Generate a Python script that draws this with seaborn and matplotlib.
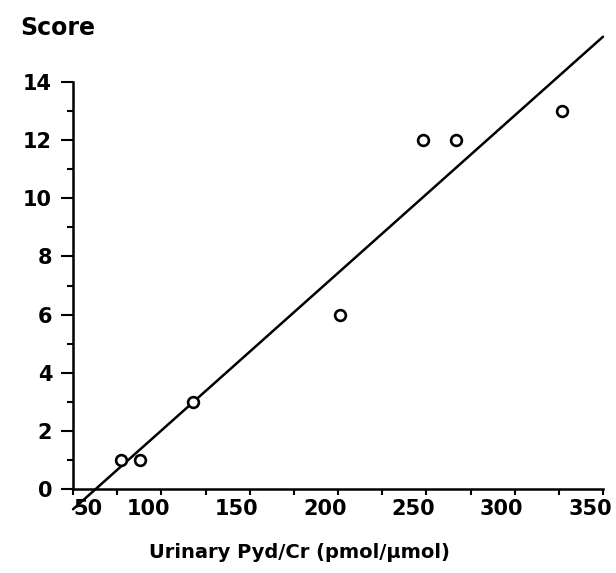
import numpy as np
import pandas as pd
import matplotlib
matplotlib.use("Agg")
import matplotlib.pyplot as plt
import matplotlib.transforms as mtransforms
from matplotlib.ticker import MultipleLocator
import seaborn as sns

# datos
pyd_cr = [77, 88, 118, 201, 248, 267, 327]
score = [1, 1, 3, 6, 12, 12, 13]
x_ticks = [50, 100, 150, 200, 250, 300, 350]
y_ticks = [0, 2, 4, 6, 8, 10, 12, 14]

df = pd.DataFrame({"pyd_cr": pyd_cr, "score": score})

sns.set_style("ticks", {"axes.edgecolor": "black", "text.color": "black",
                        "xtick.color": "black", "ytick.color": "black",
                        "axes.labelcolor": "black"})
plt.rcParams["font.family"] = ["DejaVu Sans"]

fig = plt.figure(figsize=(6.16, 5.73), dpi=100)
ax = fig.add_axes([73 / 616, 1 - 489 / 573, 530 / 616, 407 / 573])
ax.set_xlim(50, 350)
ax.set_ylim(0, 14)

# puntos abiertos + recta de regresion (truncate=False llega hasta los limites)
sns.regplot(data=df, x="pyd_cr", y="score", ax=ax, ci=None, truncate=False,
            scatter_kws={"s": 60, "facecolors": "white", "edgecolors": "black",
                         "linewidths": 1.9, "alpha": 1, "zorder": 3, "clip_on": False},
            line_kws={"color": "black", "linewidth": 1.8, "clip_on": False})
ax.set_xlim(50, 350)
ax.set_ylim(0, 14)

sns.despine(ax=ax)
for s in ["left", "bottom"]:
    ax.spines[s].set_linewidth(1.8)

ax.set_xticks(x_ticks)
ax.set_yticks(y_ticks)
ax.xaxis.set_minor_locator(MultipleLocator(25))
ax.yaxis.set_minor_locator(MultipleLocator(1))
ax.tick_params(axis="y", which="major", length=9, width=1.5, pad=6, labelsize=15)
ax.tick_params(axis="y", which="minor", length=4.5, width=1.5)
ax.tick_params(axis="x", which="both", length=4, width=1.5, pad=3, labelsize=15)
for lab in ax.get_xticklabels() + ax.get_yticklabels():
    lab.set_fontweight("bold")

# las etiquetas del eje x estan algo desplazadas en el original
for val, lab in zip(x_ticks, ax.get_xticklabels()):
    dx = 15 if val == 50 else -13
    lab.set_transform(lab.get_transform() +
                      mtransforms.ScaledTranslation(dx / 100, 0, fig.dpi_scale_trans))

ax.set_xlabel("Urinary Pyd/Cr (pmol/μmol)", fontsize=14, fontweight="bold")
ax.xaxis.set_label_coords((299 - 73) / 530, (489 - 553) / 407)
ax.xaxis.label.set_va("center")
ax.set_ylabel("")
fig.text(20 / 616, 1 - 35 / 573, "Score", fontsize=17, fontweight="bold", va="baseline")

plt.savefig("out.png", dpi=100)
